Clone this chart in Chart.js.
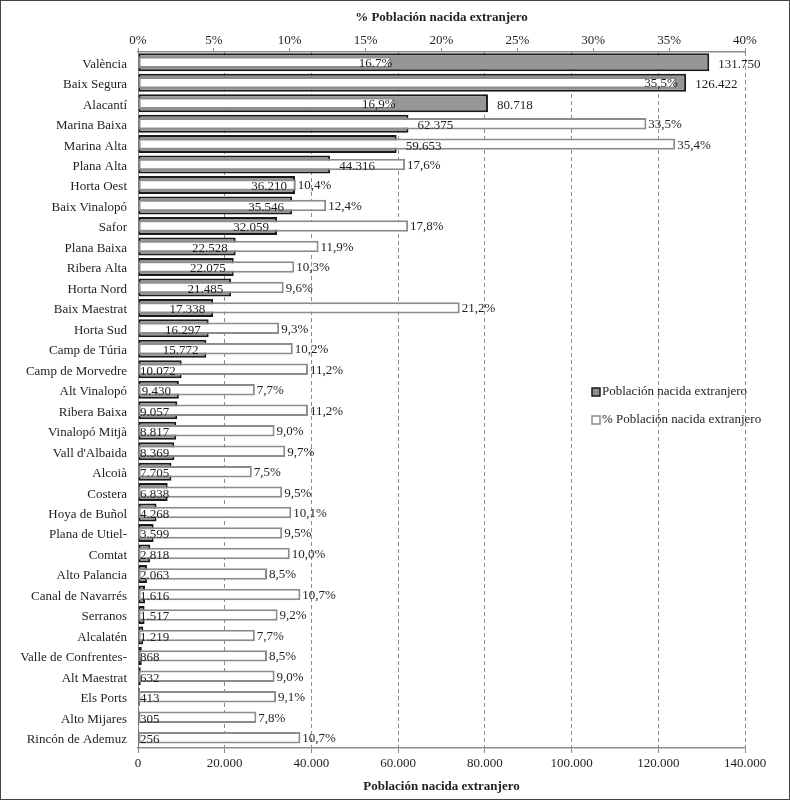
<!DOCTYPE html>
<html>
<head>
<meta charset="utf-8">
<script src="https://cdn.jsdelivr.net/npm/chart.js@4.4.1/dist/chart.umd.min.js"></script>
<style>
  html, body { margin:0; padding:0; background:#fff; }
  #wrap { width:790px; height:800px; box-sizing:border-box; border:1px solid #444; position:relative; }
  canvas { display:block; }
</style>
</head>
<body>
<div id="wrap"><canvas id="chart"></canvas></div>
<script>
/* ----------------------------------------------------------
   Data
   ---------------------------------------------------------- */
const comarcas = [
  'València','Baix Segura','Alacantí','Marina Baixa','Marina Alta','Plana Alta','Horta Oest',
  'Baix Vinalopó','Safor','Plana Baixa','Ribera Alta','Horta Nord','Baix Maestrat','Horta Sud',
  'Camp de Túria','Camp de Morvedre','Alt Vinalopó','Ribera Baixa','Vinalopó Mitjà',"Vall d'Albaida",
  'Alcoià','Costera','Hoya de Buñol','Plana de Utiel-','Comtat','Alto Palancia','Canal de Navarrés',
  'Serranos','Alcalatén','Valle de Confrentes-','Alt Maestrat','Els Ports','Alto Mijares','Rincón de Ademuz'
];
const poblacion = [
  131750, 126422, 80718, 62375, 59653, 44316, 36210,
  35546, 32059, 22528, 22075, 21485, 17338, 16297,
  15772, 10072, 9430, 9057, 8817, 8369,
  7705, 6838, 4268, 3599, 2818, 2063, 1616,
  1517, 1219, 868, 632, 413, 305, 256
];
const porcentaje = [
  16.7, 35.5, 16.9, 33.5, 35.4, 17.6, 10.4,
  12.4, 17.8, 11.9, 10.3, 9.6, 21.2, 9.3,
  10.2, 11.2, 7.7, 11.2, 9.0, 9.7,
  7.5, 9.5, 10.1, 9.5, 10.0, 8.5, 10.7,
  9.2, 7.7, 8.5, 9.0, 9.1, 7.8, 10.7
];
// the first label uses a point in the source
const porcentajeTxt = porcentaje.map((v, i) => i === 0 ? v.toFixed(1) + '%' : v.toFixed(1).replace('.', ',') + '%');

const SERIE_POB = 'Población nacida extranjero';
const SERIE_PCT = '% Población nacida extranjero';

const FONT = '"Liberation Serif", "Times New Roman", serif';
const INK = '#1e1e1e';
const GRID = '#8c8c8c';

const miles = v => String(v).replace(/\B(?=(\d{3})+(?!\d))/g, '.');

/* ----------------------------------------------------------
   Value labels
   ---------------------------------------------------------- */
const valueLabels = {
  id: 'valueLabels',
  afterDatasetsDraw(chart) {
    const ctx = chart.ctx;
    const left = chart.chartArea.left;
    const pob = chart.getDatasetMeta(0).data;
    const pct = chart.getDatasetMeta(1).data;
    ctx.save();
    ctx.font = '13px ' + FONT;
    ctx.fillStyle = INK;
    ctx.textBaseline = 'middle';
    ctx.textAlign = 'left';
    pob.forEach((bar, i) => {
      const txt = miles(poblacion[i]);
      const w = ctx.measureText(txt).width;
      const x = poblacion[i] > 40000 ? bar.x + 9 : Math.max(left + 2, bar.x - 8 - w);
      ctx.fillText(txt, x, bar.y + 2);

      const p = pct[i];
      const t = porcentajeTxt[i];
      const tx = p.x < bar.x ? p.x + 1 - ctx.measureText(t).width : p.x + 2;
      ctx.fillText(t, tx, p.y + 1);
    });
    ctx.restore();
  }
};

/* ----------------------------------------------------------
   Legend drawn inside the plot, right side
   ---------------------------------------------------------- */
const floatingLegend = {
  id: 'floatingLegend',
  afterDraw(chart) {
    const { ctx, chartArea } = chart;
    const x = chartArea.right - 153;
    const y = chartArea.top + 340;
    ctx.save();
    ctx.font = '13px ' + FONT;
    ctx.textBaseline = 'middle';
    ctx.textAlign = 'left';
    ctx.lineWidth = 1.5;
    // serie 1
    ctx.fillStyle = '#8f8f8f';
    ctx.fillRect(x, y - 4, 8, 8);
    ctx.strokeStyle = '#1a1a1a';
    ctx.strokeRect(x, y - 4, 8, 8);
    ctx.fillStyle = INK;
    ctx.fillText(SERIE_POB, x + 10, y);
    // serie 2
    ctx.fillStyle = '#fff';
    ctx.fillRect(x, y + 24, 8, 8);
    ctx.strokeStyle = '#8c8c8c';
    ctx.strokeRect(x, y + 24, 8, 8);
    ctx.fillStyle = INK;
    ctx.fillText(SERIE_PCT, x + 10, y + 28);
    ctx.restore();
  }
};

/* ----------------------------------------------------------
   Chart
   ---------------------------------------------------------- */
new Chart(document.getElementById('chart'), {
  type: 'bar',
  data: {
    labels: comarcas,
    datasets: [
      { label: SERIE_POB, data: poblacion, xAxisID: 'x', grouped: false, order: 2,
        backgroundColor: '#969696', borderColor: '#1a1a1a', borderWidth: 2, borderSkipped: false,
        barPercentage: 0.88, categoryPercentage: 1 },
      { label: SERIE_PCT, data: porcentaje, xAxisID: 'x2', grouped: false, order: 1,
        backgroundColor: '#ffffff', borderColor: '#8c8c8c', borderWidth: 2, borderSkipped: false,
        barPercentage: 0.56, categoryPercentage: 1 },
    ],
  },
  options: {
    indexAxis: 'y',
    responsive: true, maintainAspectRatio: false, animation: false,
    layout: { padding: { left: 0, right: 44, top: 0, bottom: 0 } },
    plugins: { legend: { display: false }, tooltip: { enabled: false } },
    scales: {
      y: {
        afterFit: s => { s.width = 137; },
        grid: { display: false },
        border: { display: true, color: GRID, width: 1 },
        ticks: { color: INK, font: { family: FONT, size: 13 }, padding: 3, labelOffset: 2, autoSkip: false },
      },
      x: {
        position: 'bottom', min: 0, max: 140000,
        afterFit: s => { s.height = 51; },
        ticks: { stepSize: 20000, callback: v => miles(v), color: INK, font: { family: FONT, size: 13 }, padding: 3, maxRotation: 0 },
        grid: { color: c => c.tick && c.tick.value === 0 ? 'rgba(0,0,0,0)' : GRID, tickColor: GRID, tickLength: 5, lineWidth: 1 },
        border: { color: GRID, width: 1.5, dash: [4, 3] },
        title: { display: true, text: SERIE_POB, color: INK, font: { family: FONT, size: 13, weight: 'bold' }, padding: { top: 4, bottom: 5 } },
      },
      x2: {
        position: 'top', min: 0, max: 40,
        afterFit: s => { s.height = 51; },
        ticks: { stepSize: 5, callback: v => v + '%', color: INK, font: { family: FONT, size: 13 }, padding: 0, maxRotation: 0 },
        grid: { drawOnChartArea: false, tickColor: GRID, tickLength: 4 },
        border: { color: GRID, width: 1.5 },
        title: { display: true, text: SERIE_PCT, color: INK, font: { family: FONT, size: 13, weight: 'bold' }, padding: { top: 9, bottom: 4 } },
      },
    },
  },
  plugins: [valueLabels, floatingLegend],
});
</script>
</body>
</html>
